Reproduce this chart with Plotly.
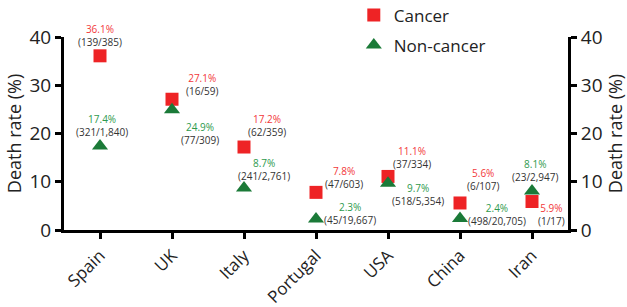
import plotly.graph_objects as go

countries = ["Spain", "UK", "Italy", "Portugal", "USA", "China", "Iran"]
cancer_rate = [36.1, 27.1, 17.2, 7.8, 11.1, 5.6, 5.9]
cancer_counts = ["139/385", "16/59", "62/359", "47/603", "37/334", "6/107", "1/17"]
noncancer_rate = [17.4, 24.9, 8.7, 2.3, 9.7, 2.4, 8.1]
noncancer_counts = ["321/1,840", "77/309", "241/2,761", "45/19,667", "518/5,354", "498/20,705", "23/2,947"]
y_ticks = [0, 10, 20, 30, 40]

# label placement offsets (pixels) relative to each marker
cancer_off = [(0, 20), (30, 15), (23, 22), (28, 15), (24, 19), (23, 23), (19, -13)]
noncancer_off = [(2, 21), (28, -24), (20, 19), (34, 5), (30, -11), (37, 4), (3, 20)]

RED = "#EE2325"
GREEN = "#1B7A38"
RED_T = "#F2383A"
GREEN_T = "#2E9A4D"
FONT = "Open Sans"
TXT = "#222222"

fig = go.Figure()
fig.add_trace(go.Scatter(x=countries, y=cancer_rate, mode="markers", name="Cancer",
                         legendgroup="a",
                         marker=dict(symbol="square", size=13, color=RED)))
fig.add_trace(go.Scatter(x=countries, y=noncancer_rate, mode="markers", name="Non-cancer",
                         legendgroup="b",
                         marker=dict(symbol="triangle-up", size=14, color=GREEN)))
# invisible trace so the right-hand axis is drawn
fig.add_trace(go.Scatter(x=countries, y=cancer_rate, mode="markers", yaxis="y2",
                         marker=dict(opacity=0), showlegend=False, hoverinfo="skip"))

ann = []
for i, c in enumerate(countries):
    for rate, cnt, off, col in ((cancer_rate[i], cancer_counts[i], cancer_off[i], RED_T),
                                (noncancer_rate[i], noncancer_counts[i], noncancer_off[i], GREEN_T)):
        ann.append(dict(x=c, y=rate, xref="x", yref="y", showarrow=False,
                        xshift=off[0], yshift=off[1], yanchor="middle", xanchor="center",
                        text=f"<span style='color:{col}'>{rate}%</span><br>({cnt})",
                        font=dict(family=FONT, size=10, color="#333333")))

axis_common = dict(showline=True, linewidth=3, linecolor="black", ticks="outside",
                   ticklen=6, tickwidth=3, tickcolor="black", showgrid=False, zeroline=False)

fig.update_layout(
    width=627, height=307,
    margin=dict(l=64, r=59, t=37, b=77, autoexpand=False),
    paper_bgcolor="white", plot_bgcolor="white",
    font=dict(family=FONT, color=TXT),
    showlegend=True,
    legend=dict(x=0.575, y=1.205, xanchor="left", yanchor="top",
                font=dict(size=17, family=FONT, color=TXT),
                bgcolor="rgba(0,0,0,0)", tracegroupgap=5),
    xaxis=dict(**axis_common, range=[-0.5, 6.5], tickangle=-45,
               tickfont=dict(size=17, family=FONT, color=TXT)),
    yaxis=dict(**axis_common, range=[0, 40], tickvals=y_ticks,
               tickfont=dict(size=19, family=FONT, color=TXT),
               title=dict(text="Death rate (%)", font=dict(size=18, family=FONT, color=TXT), standoff=4)),
    yaxis2=dict(**axis_common, range=[0, 40], tickvals=y_ticks, overlaying="y", side="right",
                tickfont=dict(size=19, family=FONT, color=TXT),
                title=dict(text="Death rate (%)", font=dict(size=18, family=FONT, color=TXT), standoff=4)),
    annotations=ann,
)

fig.write_html("out.html", config={"displayModeBar": False},
               post_script="document.body.style.margin='0';")
